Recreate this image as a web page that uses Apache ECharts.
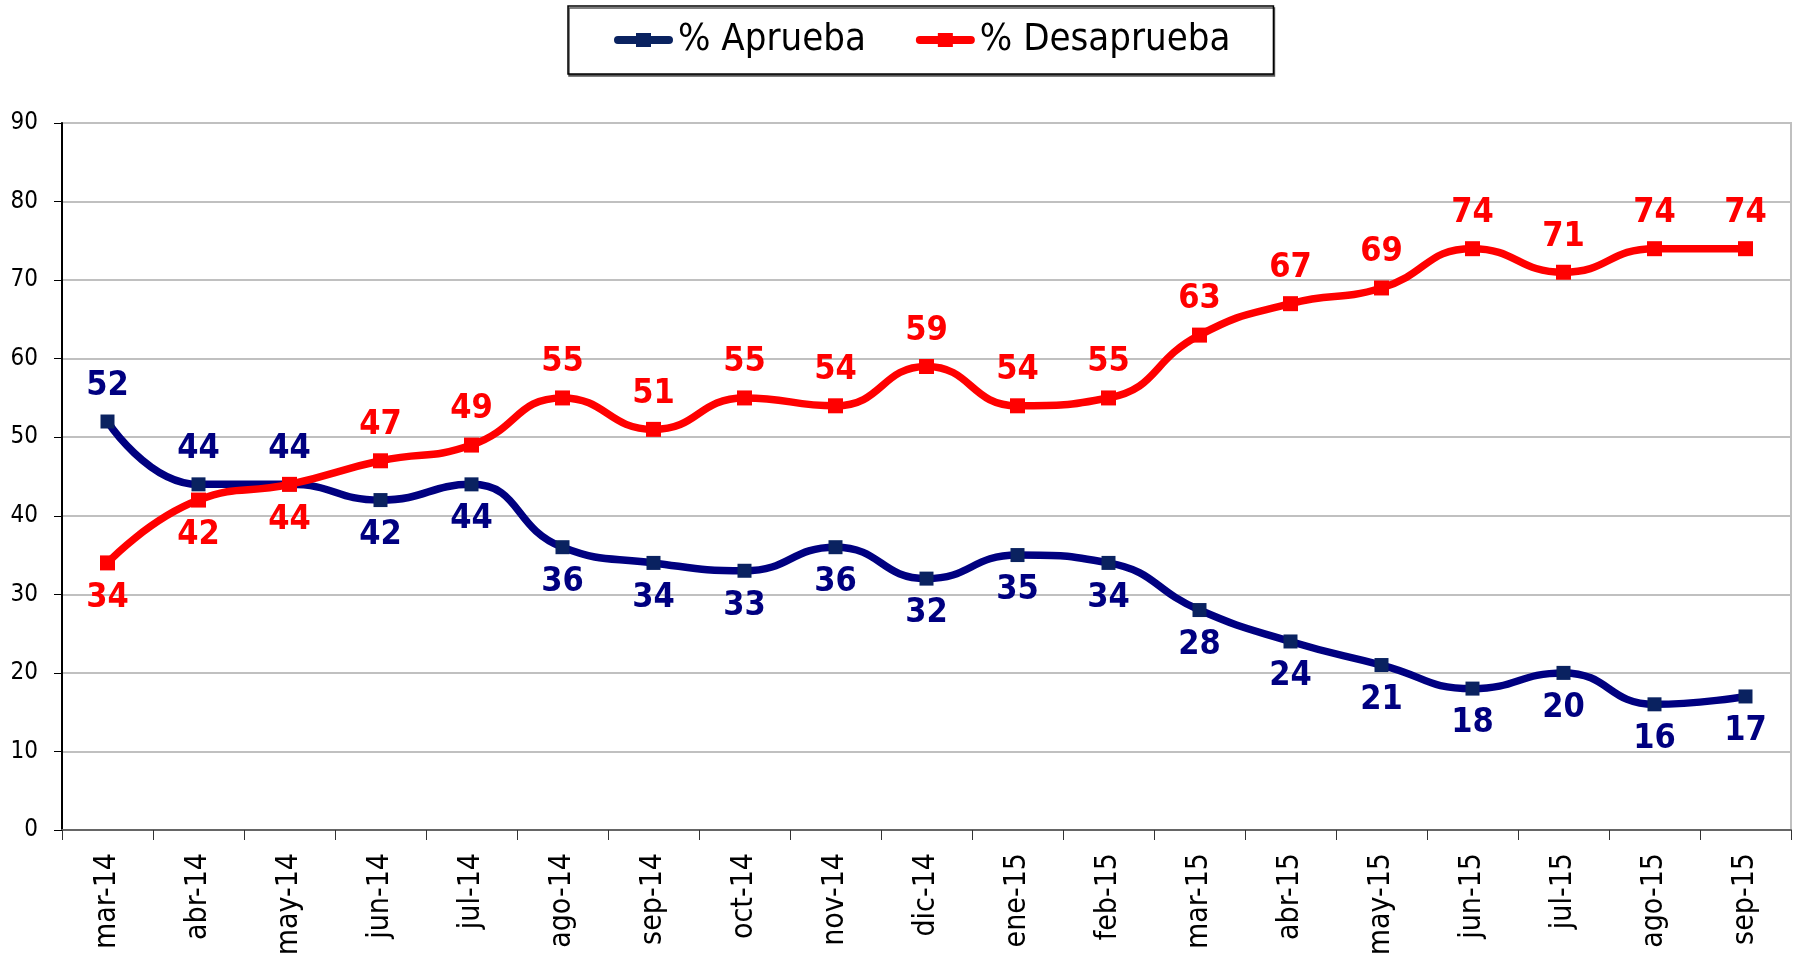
<!DOCTYPE html>
<html>
<head>
  <meta charset="utf-8">
  <script src="https://cdn.jsdelivr.net/npm/echarts@6/dist/echarts.min.js"></script>
  <style>
    html, body { margin: 0; padding: 0; background: #fff; }
    #chart { width: 1797px; height: 956px; }
  </style>
</head>
<body>
<div id="chart"></div>
<script>
  var months = ['mar-14', 'abr-14', 'may-14', 'jun-14', 'jul-14', 'ago-14', 'sep-14', 'oct-14', 'nov-14', 'dic-14',
    'ene-15', 'feb-15', 'mar-15', 'abr-15', 'may-15', 'jun-15', 'jul-15', 'ago-15', 'sep-15'];
  var aprueba = [52, 44, 44, 42, 44, 36, 34, 33, 36, 32, 35, 34, 28, 24, 21, 18, 20, 16, 17];
  var desaprueba = [34, 42, 44, 47, 49, 55, 51, 55, 54, 59, 54, 55, 63, 67, 69, 74, 71, 74, 74];
  var yTicks = [0, 90, 10]; // min, max, interval

  var FONT = "'DejaVu Sans Condensed', 'DejaVu Sans', sans-serif";
  var NAVY = '#000080';
  var RED = '#ff0000';
  // icono de leyenda: barra redondeada con el marcador cuadrado al centro
  var LEGEND_ICON = 'path://M4,3H55A4,4 0 0 1 55,11H4A4,4 0 0 1 4,3ZM22,0H37V14H22Z';

  // etiqueta arriba para la serie que va por encima en ese mes
  function withLabels(values, other, upperWins) {
    return values.map(function (v, i) {
      var above = upperWins ? v >= other[i] : v > other[i];
      return {value: v, label: {position: above ? 'top' : 'bottom'}};
    });
  }

  var chart = echarts.init(document.getElementById('chart'));
  var option = {
    backgroundColor: '#fff',
    animation: false,
    textStyle: {fontFamily: FONT},
    legend: {
      left: 568,
      top: 6,
      padding: [15, 43, 15, 46],
      itemGap: 50,
      itemWidth: 59,
      itemHeight: 14,
      backgroundColor: '#fff',
      borderColor: '#000',
      borderWidth: 1.5,
      borderRadius: 0,
      shadowColor: '#555',
      shadowOffsetX: 1,
      shadowOffsetY: 2,
      shadowBlur: 0,
      textStyle: {fontFamily: FONT, fontSize: 38, color: '#000'},
      data: [
        {name: '% Aprueba', icon: LEGEND_ICON},
        {name: '% Desaprueba', icon: LEGEND_ICON}
      ]
    },
    grid: {
      left: 62,
      right: 6,
      top: 123,
      bottom: 126,
      outerBoundsMode: 'none',
      containLabel: false,
      show: true,
      borderColor: '#c0c0c0',
      borderWidth: 2
    },
    xAxis: {
      type: 'category',
      data: months,
      boundaryGap: true,
      axisLine: {show: true, lineStyle: {color: '#666', width: 2}},
      axisTick: {show: true, length: 10, lineStyle: {color: '#333', width: 1}},
      axisLabel: {
        rotate: 90,
        margin: 23,
        interval: 0,
        fontFamily: FONT,
        fontSize: 30,
        color: '#000'
      },
      splitLine: {show: false}
    },
    yAxis: {
      type: 'value',
      min: yTicks[0],
      max: yTicks[1],
      interval: yTicks[2],
      axisLine: {show: true, lineStyle: {color: '#000', width: 2}},
      axisTick: {show: true, length: 8, lineStyle: {color: '#000', width: 1}},
      axisLabel: {margin: 24, fontFamily: FONT, fontSize: 24, color: '#000'},
      splitLine: {lineStyle: {color: '#c0c0c0', width: 2}}
    },
    series: [
      {
        name: '% Aprueba',
        type: 'line',
        smooth: true,
        data: withLabels(aprueba, desaprueba, true),
        symbol: 'rect',
        symbolSize: 14,
        lineStyle: {color: NAVY, width: 7.5},
        itemStyle: {color: '#0a2260'},
        label: {
          show: true,
          distance: 11,
          fontFamily: FONT,
          fontWeight: 'bold',
          fontSize: 34,
          color: NAVY
        },
        z: 2
      },
      {
        name: '% Desaprueba',
        type: 'line',
        smooth: true,
        data: withLabels(desaprueba, aprueba, false),
        symbol: 'rect',
        symbolSize: 15,
        lineStyle: {color: RED, width: 7.5},
        itemStyle: {color: RED},
        label: {
          show: true,
          distance: 11,
          fontFamily: FONT,
          fontWeight: 'bold',
          fontSize: 34,
          color: RED
        },
        z: 3
      }
    ]
  };
  chart.setOption(option);
</script>
</body>
</html>
